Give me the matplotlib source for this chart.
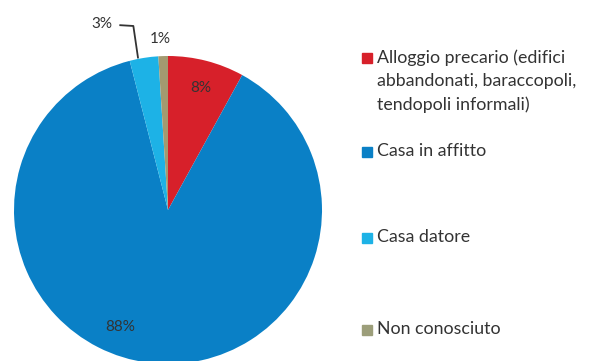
import matplotlib
matplotlib.use("Agg")
import matplotlib.pyplot as plt
from matplotlib.patches import Rectangle

plt.rcParams["font.family"] = ["Lato", "DejaVu Sans"]

categories = [
    "Alloggio precario (edifici\nabbandonati, baraccopoli,\ntendopoli informali)",
    "Casa in affitto",
    "Casa datore",
    "Non conosciuto",
]
values = [8, 88, 3, 1]
pct_labels = ["8%", "88%", "3%", "1%"]
colors = ["#D7202A", "#0A80C6", "#1DB2E6", "#A39A70"]
legend_colors = ["#D7202A", "#0A80C6", "#1DB2E6", "#9C9E7A"]

fig = plt.figure(figsize=(6, 3.61), dpi=100)
ax = fig.add_axes([14 / 600, -3 / 361, 308 / 600, 308 / 361])
ax.pie(values, colors=colors, startangle=90, counterclock=False,
       wedgeprops=dict(linewidth=0))
ax.set_xlim(-1, 1)
ax.set_ylim(-1, 1)
ax.set_aspect("equal")
ax.axis("off")

txt = dict(fontsize=11, color="#333333", ha="center", va="center", clip_on=False)
ax.text(0.21, 0.79, pct_labels[0], **txt)
ax.text(-0.31, -0.76, pct_labels[1], **txt)
ax.text(-0.43, 1.21, pct_labels[2], **txt)
ax.text(-0.05, 1.11, pct_labels[3], **txt)
ax.plot([-0.31, -0.225, -0.195], [1.20, 1.195, 0.99], color="#333333",
        lw=1.3, clip_on=False)

# legend drawn by hand (uneven spacing in original)
rows = [58, 152, 238, 330]
for lab, col, y in zip(categories, legend_colors, rows):
    fig.patches.append(Rectangle((362 / 600, 1 - (y + 5) / 361), 10 / 600, 10 / 361,
                                 transform=fig.transFigure, color=col))
    fig.text(377 / 600, 1 - (y - 9) / 361, lab, fontsize=12.8, color="#333333",
             ha="left", va="top", linespacing=1.56)

fig.savefig("out.png", dpi=100)
